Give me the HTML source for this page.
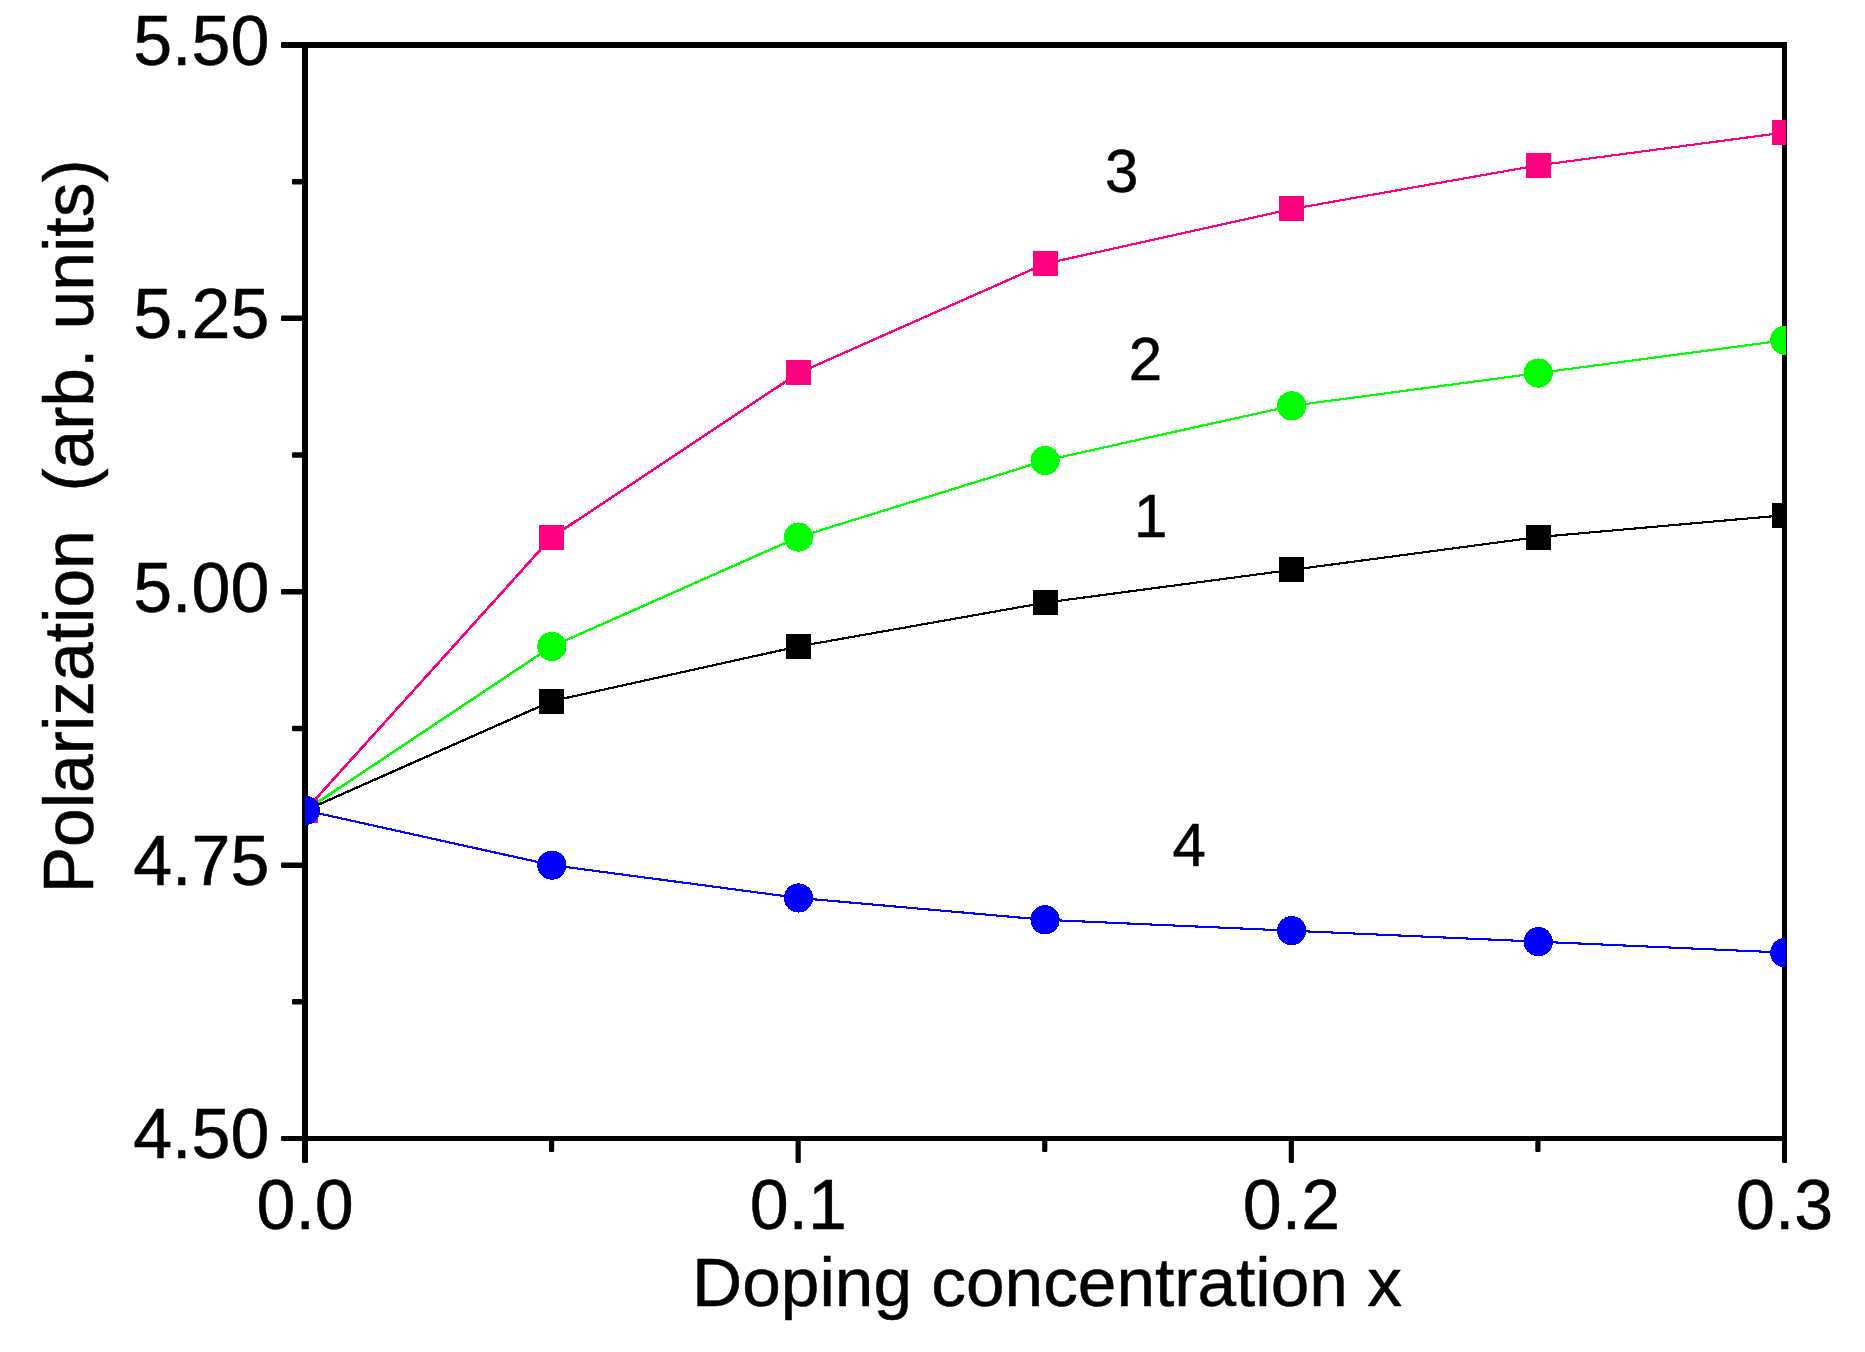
<!DOCTYPE html>
<html lang="en"><head><meta charset="utf-8"><title>Polarization vs doping concentration</title>
<style>
html,body{margin:0;padding:0;background:#fff;}
body{width:1865px;height:1352px;overflow:hidden;}
svg{display:block;}
text{font-family:"Liberation Sans",Arial,Helvetica,sans-serif;fill:#000;stroke:#000;stroke-width:0.5px;stroke-linejoin:round;white-space:pre;}
.tick{font-size:70px;}
.title{font-size:69.4px;}
.ytitle{font-size:69.5px;}
.num{font-size:60px;}
</style></head><body>
<svg width="1865" height="1352" viewBox="0 0 1865 1352">
<rect x="0" y="0" width="1865" height="1352" fill="#fff"/>
<defs><clipPath id="plot"><rect x="305" y="45" width="1481" height="1094"/></clipPath></defs>
<g fill="#000" shape-rendering="crispEdges">
<rect x="302" y="42" width="6" height="1099"/>
<rect x="1782" y="42" width="5" height="1099"/>
<rect x="302" y="42" width="1485" height="6"/>
<rect x="302" y="1136" width="1485" height="5"/>
</g>
<g fill="#000">
<rect x="281" y="42.00" width="23" height="6" rx="1.2"/>
<rect x="281" y="315.62" width="23" height="5.5" rx="1.2"/>
<rect x="281" y="589.00" width="23" height="5.5" rx="1.2"/>
<rect x="281" y="862.38" width="23" height="5.5" rx="1.2"/>
<rect x="281" y="1136.00" width="23" height="5" rx="1.2"/>
<rect x="292" y="178.94" width="12" height="5.5" rx="1.2"/>
<rect x="292" y="452.31" width="12" height="5.5" rx="1.2"/>
<rect x="292" y="725.69" width="12" height="5.5" rx="1.2"/>
<rect x="292" y="999.06" width="12" height="5.5" rx="1.2"/>
<rect x="302.00" y="1139" width="6" height="24" rx="1.2"/>
<rect x="795.57" y="1139" width="5.2" height="24" rx="1.2"/>
<rect x="1288.73" y="1139" width="5.2" height="24" rx="1.2"/>
<rect x="1782.00" y="1139" width="5" height="24" rx="1.2"/>
<rect x="548.98" y="1139" width="5.2" height="13" rx="1.2"/>
<rect x="1042.15" y="1139" width="5.2" height="13" rx="1.2"/>
<rect x="1535.32" y="1139" width="5.2" height="13" rx="1.2"/>
</g>
<g clip-path="url(#plot)" shape-rendering="crispEdges">
<g stroke="#000000" fill="none" stroke-linecap="round">
<line x1="305.30" y1="810.45" x2="551.88" y2="701.10" stroke-width="2.37"/>
<line x1="551.88" y1="701.10" x2="798.47" y2="646.42" stroke-width="2.19"/>
<line x1="798.47" y1="646.42" x2="1045.05" y2="602.68" stroke-width="2.16"/>
<line x1="1045.05" y1="602.68" x2="1291.63" y2="569.88" stroke-width="2.13"/>
<line x1="1291.63" y1="569.88" x2="1538.22" y2="537.08" stroke-width="2.13"/>
<line x1="1538.22" y1="537.08" x2="1784.80" y2="515.20" stroke-width="2.12"/>
</g>
<rect x="293" y="798" width="25" height="25" fill="#000000"/>
<rect x="539" y="689" width="25" height="25" fill="#000000"/>
<rect x="786" y="634" width="25" height="25" fill="#000000"/>
<rect x="1033" y="590" width="25" height="25" fill="#000000"/>
<rect x="1279" y="557" width="25" height="25" fill="#000000"/>
<rect x="1526" y="525" width="25" height="25" fill="#000000"/>
<rect x="1772" y="503" width="25" height="25" fill="#000000"/>
<g stroke="#00ff00" fill="none" stroke-linecap="round">
<line x1="305.30" y1="810.45" x2="551.88" y2="646.42" stroke-width="2.53"/>
<line x1="551.88" y1="646.42" x2="798.47" y2="537.08" stroke-width="2.37"/>
<line x1="798.47" y1="537.08" x2="1045.05" y2="460.53" stroke-width="2.26"/>
<line x1="1045.05" y1="460.53" x2="1291.63" y2="405.86" stroke-width="2.19"/>
<line x1="1291.63" y1="405.86" x2="1538.22" y2="373.05" stroke-width="2.13"/>
<line x1="1538.22" y1="373.05" x2="1784.80" y2="340.24" stroke-width="2.13"/>
</g>
<circle cx="305.30" cy="810.45" r="14.6" fill="#00ff00"/>
<circle cx="551.88" cy="646.42" r="14.6" fill="#00ff00"/>
<circle cx="798.47" cy="537.08" r="14.6" fill="#00ff00"/>
<circle cx="1045.05" cy="460.53" r="14.6" fill="#00ff00"/>
<circle cx="1291.63" cy="405.86" r="14.6" fill="#00ff00"/>
<circle cx="1538.22" cy="373.05" r="14.6" fill="#00ff00"/>
<circle cx="1784.80" cy="340.24" r="14.6" fill="#00ff00"/>
<g stroke="#ff0080" fill="none" stroke-linecap="round">
<line x1="305.30" y1="810.45" x2="551.88" y2="537.08" stroke-width="2.59"/>
<line x1="551.88" y1="537.08" x2="798.47" y2="373.05" stroke-width="2.53"/>
<line x1="798.47" y1="373.05" x2="1045.05" y2="263.70" stroke-width="2.37"/>
<line x1="1045.05" y1="263.70" x2="1291.63" y2="209.03" stroke-width="2.19"/>
<line x1="1291.63" y1="209.03" x2="1538.22" y2="165.29" stroke-width="2.16"/>
<line x1="1538.22" y1="165.29" x2="1784.80" y2="132.48" stroke-width="2.13"/>
</g>
<rect x="293" y="798" width="25" height="25" fill="#ff0080"/>
<rect x="539" y="525" width="25" height="25" fill="#ff0080"/>
<rect x="786" y="360" width="25" height="25" fill="#ff0080"/>
<rect x="1033" y="251" width="25" height="25" fill="#ff0080"/>
<rect x="1279" y="196" width="25" height="25" fill="#ff0080"/>
<rect x="1526" y="153" width="25" height="25" fill="#ff0080"/>
<rect x="1772" y="120" width="25" height="25" fill="#ff0080"/>
<g stroke="#0000ff" fill="none" stroke-linecap="round">
<line x1="305.30" y1="810.45" x2="551.88" y2="865.12" stroke-width="2.19"/>
<line x1="551.88" y1="865.12" x2="798.47" y2="897.93" stroke-width="2.13"/>
<line x1="798.47" y1="897.93" x2="1045.05" y2="919.80" stroke-width="2.12"/>
<line x1="1045.05" y1="919.80" x2="1291.63" y2="930.73" stroke-width="2.10"/>
<line x1="1291.63" y1="930.73" x2="1538.22" y2="941.67" stroke-width="2.10"/>
<line x1="1538.22" y1="941.67" x2="1784.80" y2="952.61" stroke-width="2.10"/>
</g>
<circle cx="305.30" cy="810.45" r="14.6" fill="#0000ff"/>
<circle cx="551.88" cy="865.12" r="14.6" fill="#0000ff"/>
<circle cx="798.47" cy="897.93" r="14.6" fill="#0000ff"/>
<circle cx="1045.05" cy="919.80" r="14.6" fill="#0000ff"/>
<circle cx="1291.63" cy="930.73" r="14.6" fill="#0000ff"/>
<circle cx="1538.22" cy="941.67" r="14.6" fill="#0000ff"/>
<circle cx="1784.80" cy="952.61" r="14.6" fill="#0000ff"/>
</g>
<text class="tick" transform="translate(269.40 64.80) scale(1 1.015)" text-anchor="end">5.50</text>
<text class="tick" transform="translate(269.40 338.18) scale(1 1.015)" text-anchor="end">5.25</text>
<text class="tick" transform="translate(269.40 611.55) scale(1 1.015)" text-anchor="end">5.00</text>
<text class="tick" transform="translate(269.40 884.92) scale(1 1.015)" text-anchor="end">4.75</text>
<text class="tick" transform="translate(269.40 1158.30) scale(1 1.015)" text-anchor="end">4.50</text>
<text class="tick" transform="translate(305.15 1229.00) scale(1 1.015)" text-anchor="middle">0.0</text>
<text class="tick" transform="translate(798.32 1229.00) scale(1 1.015)" text-anchor="middle">0.1</text>
<text class="tick" transform="translate(1291.48 1229.00) scale(1 1.015)" text-anchor="middle">0.2</text>
<text class="tick" transform="translate(1784.65 1229.00) scale(1 1.015)" text-anchor="middle">0.3</text>
<text class="title" x="1047" y="1305.5" text-anchor="middle">Doping concentration x</text>
<text class="ytitle" transform="translate(93.2 526.4) rotate(-90)" text-anchor="middle" xml:space="preserve">Polarization  (arb. units)</text>
<text class="num" transform="translate(1121.60 192.40) scale(1 1.025)" text-anchor="middle">3</text>
<text class="num" transform="translate(1145.50 379.90) scale(1 1.025)" text-anchor="middle">2</text>
<text class="num" transform="translate(1150.70 536.90) scale(1 1.025)" text-anchor="middle">1</text>
<text class="num" transform="translate(1189.15 865.90) scale(1 1.025)" text-anchor="middle">4</text>
</svg>
</body></html>
